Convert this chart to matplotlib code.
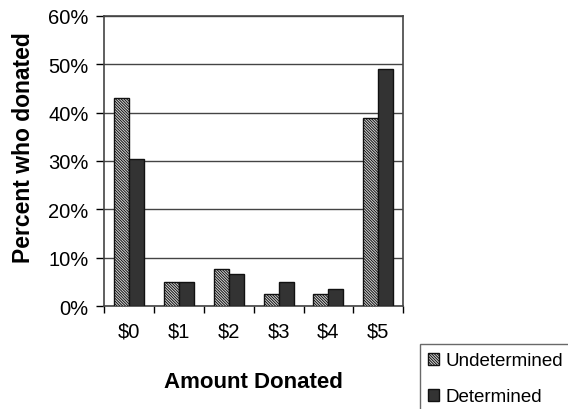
import numpy as np
import matplotlib.pyplot as plt

plt.rcParams['font.family'] = ['Liberation Sans', 'DejaVu Sans']
plt.rcParams['hatch.linewidth'] = 0.7
plt.rcParams['hatch.color'] = '#555555'

amounts = ['$0', '$1', '$2', '$3', '$4', '$5']
undetermined = [43.0, 5.0, 7.6, 2.6, 2.6, 38.8]
determined = [30.4, 5.0, 6.7, 5.0, 3.5, 49.1]

fig = plt.figure(figsize=(5.68, 4.10), dpi=100)
ax = fig.add_axes([0.183, 0.251, 0.527, 0.708])

x = np.arange(len(amounts))
w = 0.3
ax.bar(x - w/2, undetermined, w, color='#d8d8d8', edgecolor='#111111',
       hatch='\\' * 12, linewidth=1, label='Undetermined', zorder=3)
ax.bar(x + w/2, determined, w, color='#333333', edgecolor='#111111',
       linewidth=1, label='Determined', zorder=3)

ax.set_xlim(-0.5, len(amounts) - 0.5)
ax.set_ylim(0, 60)
ax.set_yticks(range(0, 61, 10))
ax.set_yticklabels([f'{v}%' for v in range(0, 61, 10)], fontsize=14.5)
ax.set_xticks(x)
ax.set_xticklabels(amounts, fontsize=14.5)
ax.set_xticks(np.arange(-0.5, len(amounts), 1), minor=True)
ax.tick_params(axis='x', which='major', length=0, pad=11)
ax.tick_params(axis='x', which='minor', length=5, width=1, direction='out')
ax.tick_params(axis='y', length=6, width=1, direction='out', pad=5)

ax.yaxis.grid(True, color='#444444', linewidth=1, zorder=0)
for s in ax.spines.values():
    s.set_color('#444444')
    s.set_linewidth(1.2)

ax.set_ylabel('Percent who donated', fontsize=16.5, fontweight='bold')
ax.yaxis.set_label_coords(-0.23, 0.55)
ax.set_xlabel('Amount Donated', fontsize=16, fontweight='bold', labelpad=22)

leg = fig.legend(loc='upper left', bbox_to_anchor=(0.739, 0.1585), fontsize=13.5,
                 frameon=True, fancybox=False, edgecolor='#444444',
                 handlelength=0.6, handleheight=0.6, handletextpad=0.3,
                 borderpad=0.45, borderaxespad=0, labelspacing=1.0)
leg.get_frame().set_linewidth(1)

fig.savefig('out.png', dpi=100)
